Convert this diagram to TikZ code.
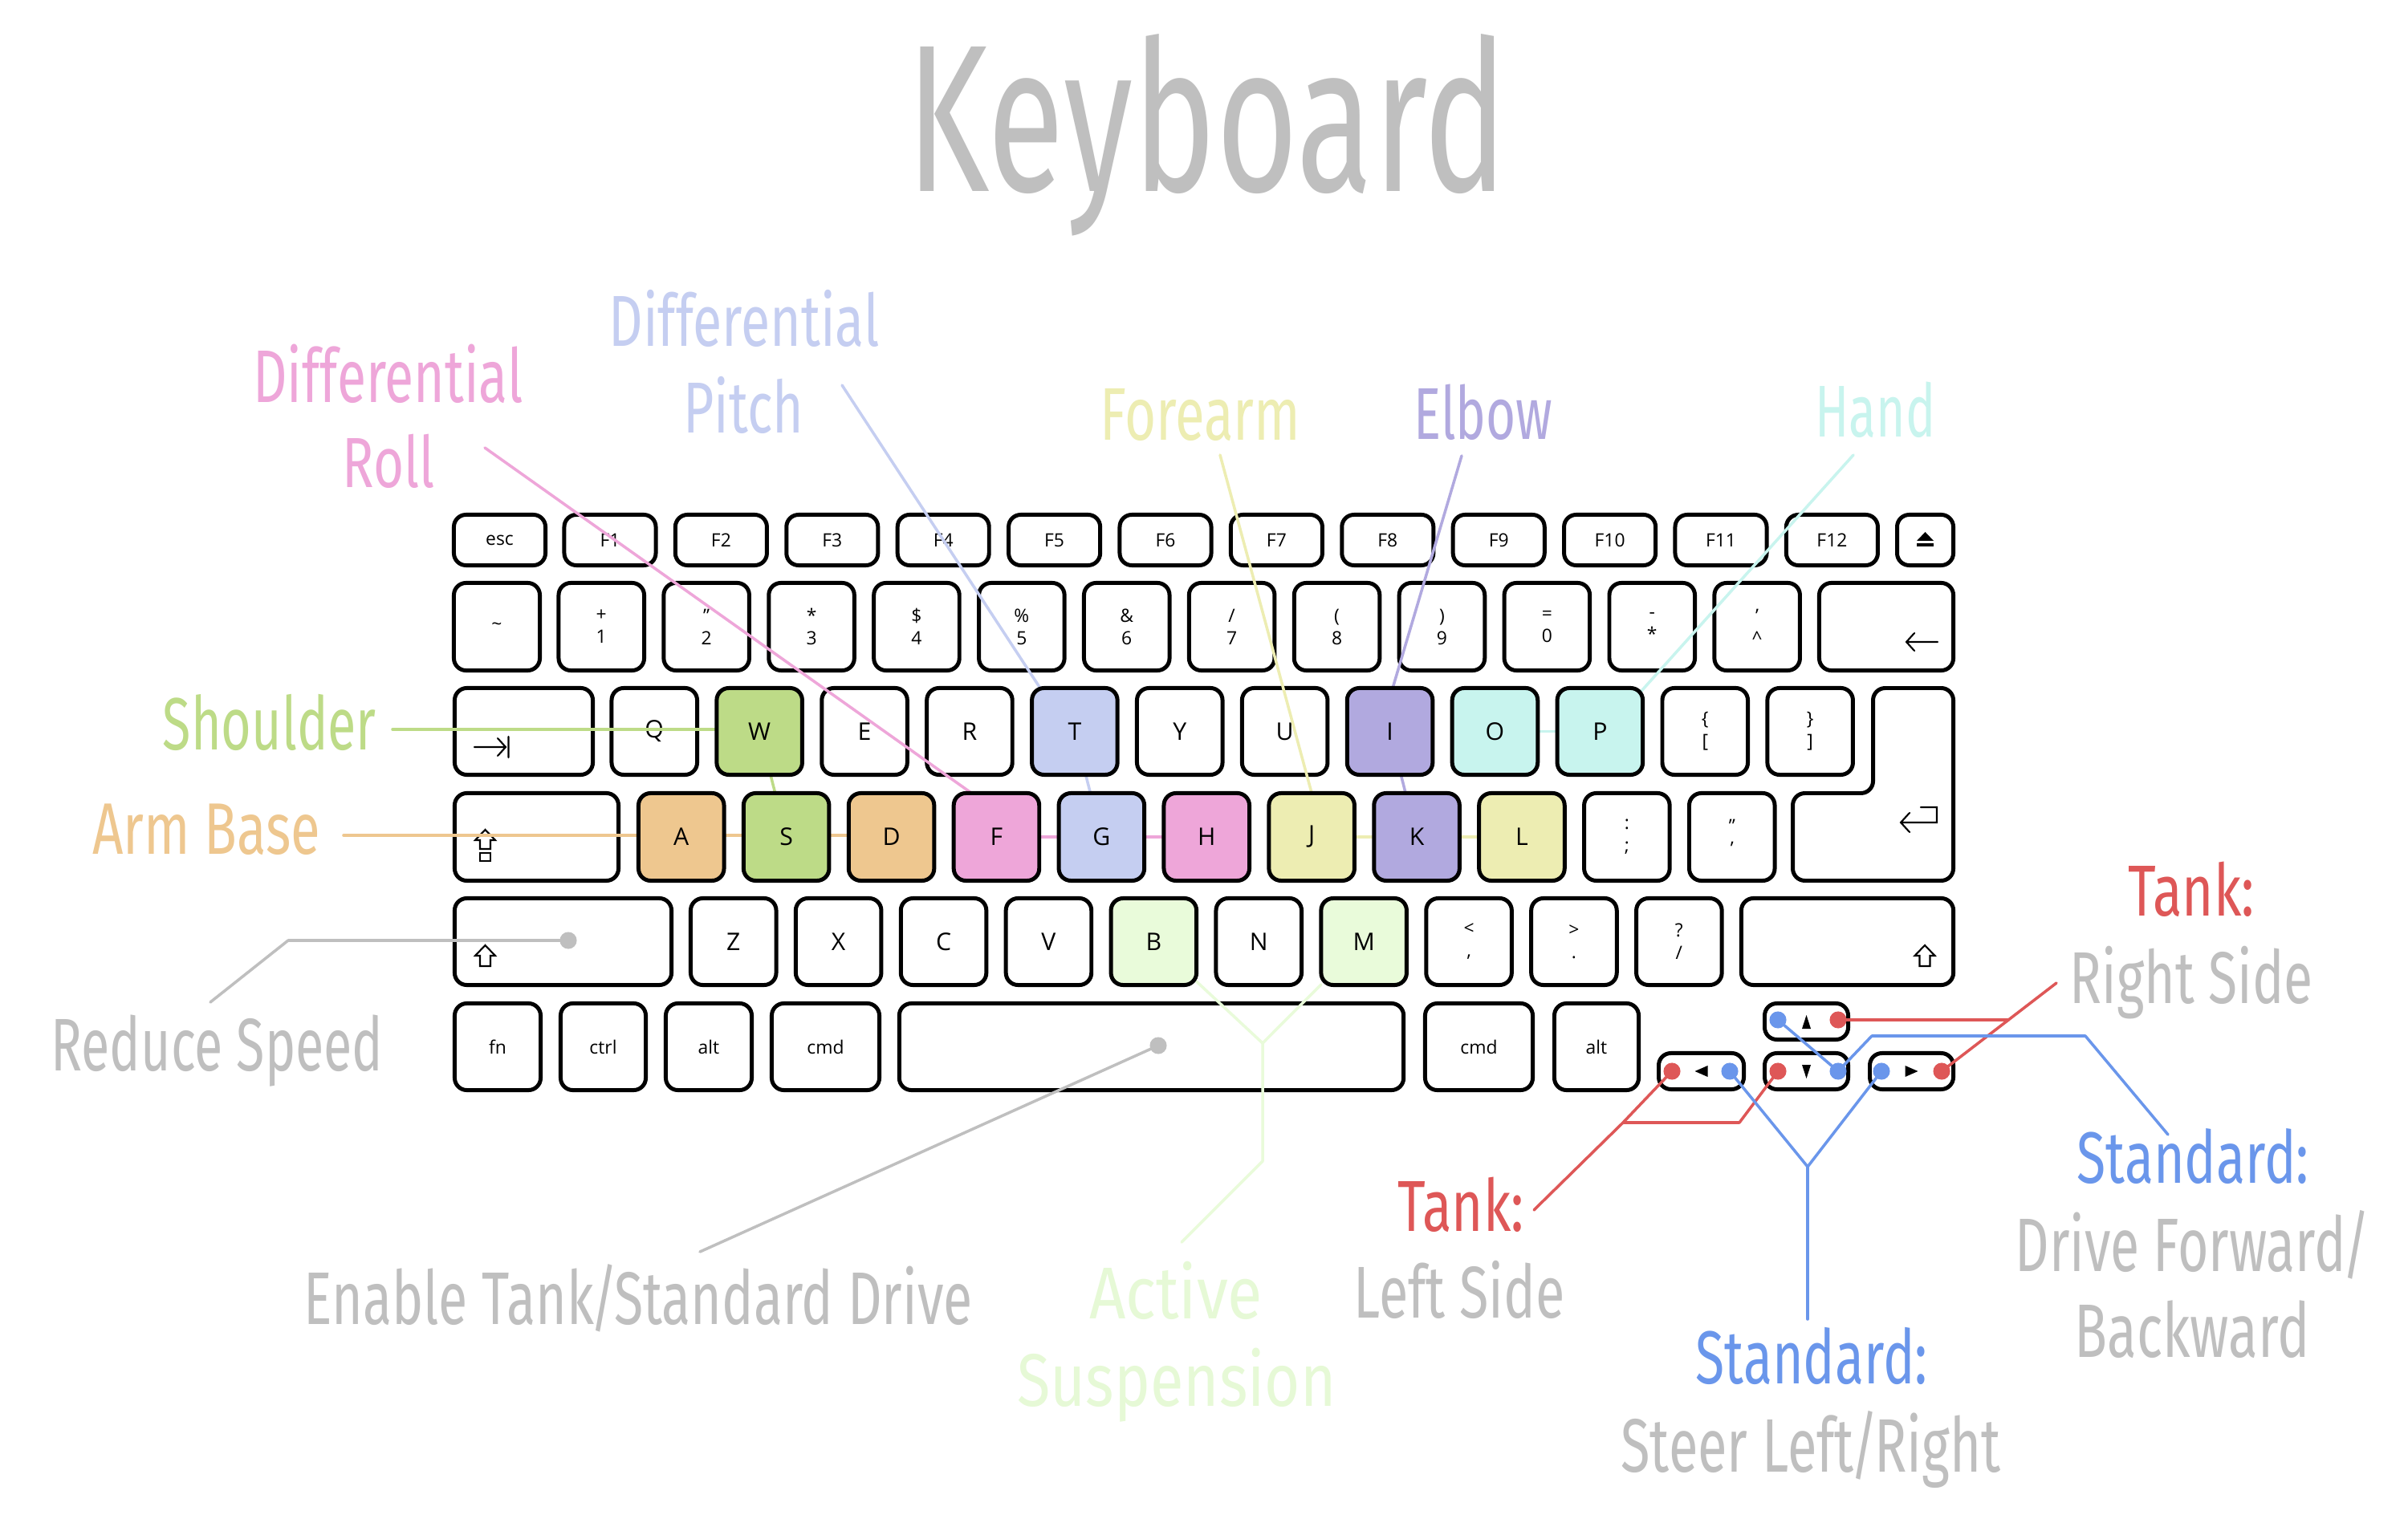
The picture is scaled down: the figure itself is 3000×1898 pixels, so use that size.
\documentclass[tikz,border=0pt]{standalone}
\usepackage{fontspec}
\usepackage{graphicx}
\usetikzlibrary{calc}
\newfontfamily\labfont{Fira Sans}
\newfontfamily\keyfont{Open Sans}
\newlength\pxu
\setlength\pxu{0.01cm}
\newcommand\lbl[3]{\resizebox{#1\pxu}{#2\pxu}{\labfont\smash{#3}\vphantom{H}}}
\newcommand\myslash{\kern-0.07em/\kern-0.07em}
\definecolor{cgray}{HTML}{BFBFBF}
\definecolor{cpink}{HTML}{EEA6D9}
\definecolor{cpitch}{HTML}{C5CEF1}
\definecolor{cfore}{HTML}{EDEDB2}
\definecolor{celbow}{HTML}{B1A9DF}
\definecolor{chand}{HTML}{C8F4EE}
\definecolor{cshoulder}{HTML}{BDDB87}
\definecolor{carm}{HTML}{EEC78F}
\definecolor{csusp}{HTML}{E9FBDA}
\definecolor{csusptxt}{HTML}{E6F9D6}
\definecolor{cred}{HTML}{DE5757}
\definecolor{cblue}{HTML}{6A96EB}
\pgfdeclarelayer{wk}
\pgfdeclarelayer{ln}
\pgfsetlayers{wk,ln,main}
\newcommand\K[7][]{\node[key,#1,minimum width={(#5-5)*0.284528pt},minimum height={(#6-5)*0.284528pt}] (#2) at ({#3+#5/2},{#4+#6/2}) {#7};}
\newcommand\RA[3][]{\K[#1]{k#2}{759.5+#3*130.9}{855}{111.5}{113}{#2}}
\newcommand\RB[3][]{\K[#1]{k#2}{793+#3*130.9}{986}{111.5}{114}{#2}}
\newcommand\RC[3][]{\K[#1]{k#2}{858+#3*130.9}{1117}{111.5}{113}{#2}}
\newcommand\RN[3]{\K[sk]{k#1}{693.5+#2*130.9}{724}{111.5}{114}{#3}}
\begin{document}
\begin{tikzpicture}[x=0.01cm,y=-0.01cm,
  key/.style={draw=black,line width=1.42pt,rounded corners=4.3pt,fill=white,inner sep=0pt,outer sep=0pt,align=center,text=black,font=\keyfont\fontsize{8.6}{10}\selectfont},
  sk/.style={font=\keyfont\fontsize{6.5}{7.97}\selectfont},
  lab/.style={inner sep=0pt,outer sep=0pt,anchor=base},
  conn/.style={line width=1pt,line cap=round,line join=round},
  dot/.style={circle,inner sep=0pt,minimum size=6pt,draw=none},
  icon/.style={line width=0.6pt,line cap=round,line join=miter,draw=black}]
\begin{pgfonlayer}{wk}
\fill[white] (0,0) rectangle (3000,1898);
\useasboundingbox (0,0) rectangle (3000,1898);
% row 0
\K[sk]{kesc}{563}{639}{119}{68}{esc}
\foreach \i in {1,...,12}{\K[sk]{kF\i}{700.5+(\i-1)*138.4}{639}{119}{68}{F\i}}
\K{kej}{2361}{639}{75}{68}{}
\fill ($(kej)+(-10.5,1)$) -- ($(kej)+(10.5,1)$) -- ($(kej)+(0,-10)$) -- cycle;
\fill ($(kej)+(-10.5,4)$) rectangle ($(kej)+(10.5,8)$);
% row 1
\K[sk]{ktil}{563}{724}{112}{114}{\textasciitilde}
\RN{1}{0}{+\\1}
\RN{2}{1}{”\\2}
\RN{3}{2}{*\\3}
\RN{4}{3}{\$\\4}
\RN{5}{4}{\%\\5}
\RN{6}{5}{\&\\6}
\RN{7}{6}{/\\7}
\RN{8}{7}{(\\8}
\RN{9}{8}{)\\9}
\RN{0}{9}{=\\0}
\RN{minus}{10}{-\\{*}}
\RN{caret}{11}{’\\\textasciicircum}
\K{kbsp}{2264}{724}{172}{114}{}
\draw[icon] (2414,800) -- (2375,800) (2385,789) -- (2375,800) -- (2385,811);
% row 2
\K{ktab}{564}{855}{177}{113}{}
\draw[icon] (591,931) -- (630,931) (620,920) -- (630,931) -- (620,942) (633.5,918) -- (633.5,944);
\RA{Q}{0} \RA{E}{2} \RA{R}{3} \RA{Y}{5} \RA{U}{6}
\K[sk]{klbr}{759.5+10*130.9}{855}{111.5}{113}{\{\\{[}}
\K[sk]{krbr}{759.5+11*130.9}{855}{111.5}{113}{\}\\{]}}
\draw[line width=1.42pt,rounded corners=4.3pt,fill=white] (2333.5,857.5) -- (2433.5,857.5) -- (2433.5,1097.5) -- (2233.5,1097.5) -- (2233.5,988.5) -- (2333.5,988.5) -- cycle;
\draw[icon] (2393,1006) -- (2413,1006) -- (2413,1025) -- (2368,1025) (2379,1013) -- (2368,1025) -- (2379,1037);
% row 3
\K{kcaps}{564}{986}{209}{114}{}
\draw[icon] (604.5,1034) -- (617,1047) -- (611,1047) -- (611,1058) -- (598,1058) -- (598,1047) -- (592,1047) -- cycle;
\draw[icon] (598,1063) rectangle (611,1073);
\K[sk]{ksemi}{793+9*130.9}{986}{111.5}{114}{:\\;}
\K[sk]{kquote}{793+10*130.9}{986}{111.5}{114}{”\\’}
% row 4
\K{klsh}{564}{1117}{275}{113}{}
\draw[icon] (604.5,1178) -- (617,1191) -- (611,1191) -- (611,1204) -- (598,1204) -- (598,1191) -- (592,1191) -- cycle;
\RC{Z}{0} \RC{X}{1} \RC{C}{2} \RC{V}{3} \RC{N}{5}
\K[sk]{kcomma}{858+7*130.9}{1117}{111.5}{113}{<\\,}
\K[sk]{kperiod}{858+8*130.9}{1117}{111.5}{113}{>\\.}
\K[sk]{kslash}{858+9*130.9}{1117}{111.5}{113}{?\\/}
\K{krsh}{2167}{1117}{269}{113}{}
\draw[icon] (2398,1178) -- (2410.5,1191) -- (2404.5,1191) -- (2404.5,1204) -- (2391.5,1204) -- (2391.5,1191) -- (2385.5,1191) -- cycle;
% row 5
\K[sk]{kfn}{564}{1248}{112}{113}{fn}
\K[sk]{kctrl}{696}{1248}{111}{113}{ctrl}
\K[sk]{klalt}{827}{1248}{112}{113}{alt}
\K[sk]{klcmd}{959}{1248}{139}{113}{cmd}
\K{kspace}{1118}{1248}{633}{113}{}
\K[sk]{krcmd}{1773}{1248}{139}{113}{cmd}
\K[sk]{kralt}{1934}{1248}{110}{113}{alt}
\K{kup}{2196}{1248}{109}{50}{}
\K{kleft}{2064}{1310}{111}{50}{}
\K{kdown}{2196}{1310}{109}{50}{}
\K{kright}{2327}{1310}{109}{50}{}
\fill ($(kup)+(-5.5,9)$) -- ($(kup)+(5.5,9)$) -- ($(kup)+(0,-8)$) -- cycle;
\fill ($(kleft)+(-8,0)$) -- ($(kleft)+(8,-7)$) -- ($(kleft)+(8,7)$) -- cycle;
\fill ($(kdown)+(-5.5,-8)$) -- ($(kdown)+(5.5,-8)$) -- ($(kdown)+(0,9)$) -- cycle;
\fill ($(kright)+(8,0)$) -- ($(kright)+(-8,-7)$) -- ($(kright)+(-8,7)$) -- cycle;
\end{pgfonlayer}
% coloured keys
\RA[fill=cshoulder]{W}{1} \RA[fill=cpitch]{T}{4} \RA[fill=celbow]{I}{7} \RA[fill=chand]{O}{8} \RA[fill=chand]{P}{9}
\RB[fill=carm]{A}{0} \RB[fill=cshoulder]{S}{1} \RB[fill=carm]{D}{2} \RB[fill=cpink]{F}{3} \RB[fill=cpitch]{G}{4}
\RB[fill=cpink]{H}{5} \RB[fill=cfore]{J}{6} \RB[fill=celbow]{K}{7} \RB[fill=cfore]{L}{8}
\RC[fill=csusp]{B}{4} \RC[fill=csusp]{M}{6}
% labels
\node[lab,text=cgray] (title) at (1504,238.5) {\lbl{748}{180}{Keyboard}};
\node[lab,text=cpink] (rollA) at (483.3,502) {\lbl{336}{64}{Differential}};
\node[lab,text=cpink] (rollB) at (484,608) {\lbl{115}{61}{Roll}};
\node[lab,text=cpitch] (pitA) at (927,432) {\lbl{337}{62}{Differential}};
\node[lab,text=cpitch] (pitB) at (926.5,540) {\lbl{150}{62}{Pitch}};
\node[lab,text=cfore] (fore) at (1495.3,549) {\lbl{250}{64}{Forearm}};
\node[lab,text=celbow] (elb) at (1848,548) {\lbl{173}{63}{Elbow}};
\node[lab,text=chand] (hand) at (2336.5,545) {\lbl{150}{63}{Hand}};
\node[lab,text=cshoulder] (shou) at (335.8,934.6) {\lbl{266}{63.6}{Shoulder}};
\node[lab,text=carm] (armb) at (257.4,1064) {\lbl{284}{62.6}{Arm Base}};
\node[lab,text=cgray] (reds) at (270.5,1334) {\lbl{414}{64}{Reduce Speed}};
\node[lab,text=cgray] (enab) at (795,1650) {\lbl{833}{64}{Enable Tank\myslash Standard Drive}};
\node[lab,text=csusptxt] (suspA) at (1465,1643) {\lbl{216}{63}{Active}};
\node[lab,text=csusptxt] (suspB) at (1466,1752) {\lbl{397}{64}{Suspension}};
\node[lab,text=cred] (tankL) at (1820,1534) {\lbl{158}{62}{Tank:}};
\node[lab,text=cgray] (leftS) at (1818,1642) {\lbl{263}{63}{Left Side}};
\node[lab,text=cred] (tankR) at (2730,1141) {\lbl{158}{62}{Tank:}};
\node[lab,text=cgray] (rightS) at (2730,1250) {\lbl{303}{63}{Right Side}};
\node[lab,text=cblue] (stdA) at (2732,1474.5) {\lbl{289}{62.5}{Standard:}};
\node[lab,text=cgray] (stdB) at (2731.5,1584) {\lbl{442}{65}{Drive Forward\kern-0.07em/}};
\node[lab,text=cgray] (stdC) at (2731,1691) {\lbl{293}{65}{Backward}};
\node[lab,text=cblue] (strA) at (2257,1724.5) {\lbl{289}{64.5}{Standard:}};
\node[lab,text=cgray] (strB) at (2256,1834) {\lbl{473}{65}{Steer Left\myslash Right}};
% connector coordinates
\coordinate (rollE) at (604,558);
\coordinate (pitchE) at (1049,480);
\coordinate (foreE) at (1520,567);
\coordinate (elbE) at (1821,568);
\coordinate (handE) at (2309,567);
\coordinate (shE) at (489,909);
\coordinate (armE) at (428,1041);
\coordinate (redE) at (262,1249);
\coordinate (redM) at (359,1172);
\coordinate (cRS) at (708,1172);
\coordinate (enE) at (872,1560);
\coordinate (cEN) at (1443,1303);
\coordinate (suJ) at (1573,1300);
\coordinate (suK) at (1573,1447);
\coordinate (suE) at (1472,1548);
\coordinate (pUb) at (2215,1271);
\coordinate (pUr) at (2290,1271);
\coordinate (pLr) at (2083,1335);
\coordinate (pLb) at (2155,1335);
\coordinate (pDr) at (2215,1335);
\coordinate (pDb) at (2290,1335);
\coordinate (pRb) at (2344,1335);
\coordinate (pRr) at (2419,1335);
\coordinate (tlE) at (1911,1508);
\coordinate (tlK) at (2022,1399);
\coordinate (tlM) at (2167,1399);
\coordinate (trE) at (2562,1225);
\coordinate (trM) at (2502,1271);
\coordinate (sdA) at (2332,1291);
\coordinate (sdB) at (2598,1291);
\coordinate (sdE) at (2701,1414);
\coordinate (stJ) at (2252,1454);
\coordinate (stE) at (2252,1644);
\begin{pgfonlayer}{ln}
\draw[conn,draw=cpink] (rollE) -- ($(kF.north)+(-31,0)$);
\draw[conn,draw=cpink] (kF) -- (kH);
\draw[conn,draw=cpitch] (pitchE) -- ($(kT.north)+(-43,0)$);
\draw[conn,draw=cpitch] (kT) -- (kG);
\draw[conn,draw=cfore] (foreE) -- (kJ.north);
\draw[conn,draw=cfore] (kJ) -- (kL);
\draw[conn,draw=celbow] (elbE) -- ($(kI.north)+(3.5,0)$);
\draw[conn,draw=celbow] (kI) -- (kK);
\draw[conn,draw=chand] (handE) -- ($(kP.north east)+(-2,4)$);
\draw[conn,draw=chand] (kO) -- (kP);
\draw[conn,draw=cshoulder] (shE) -- (shE -| kW);
\draw[conn,draw=cshoulder] (kW) -- (kS);
\draw[conn,draw=carm] (armE) -- (armE -| kD);
\draw[conn,draw=cgray] (redE) -- (redM) -- (cRS);
\draw[conn,draw=cgray] (enE) -- (cEN);
\draw[conn,draw=csusp] (kB) -- (suJ) -- (kM);
\draw[conn,draw=csusp] (suJ) -- (suK) -- (suE);
\draw[conn,draw=cred] (tlE) -- (tlK) -- (pLr);
\draw[conn,draw=cred] (tlK) -- (tlM) -- (pDr);
\draw[conn,draw=cred] (trE) -- (pRr);
\draw[conn,draw=cred] (pUr) -- (trM);
\draw[conn,draw=cblue] (pUb) -- (pDb) -- (sdA) -- (sdB) -- (sdE);
\draw[conn,draw=cblue] (pLb) -- (stJ) -- (pRb);
\draw[conn,draw=cblue] (stJ) -- (stE);
\end{pgfonlayer}
% dots
\node[dot,fill=cgray] (dRS) at (cRS) {};
\node[dot,fill=cgray] (dEN) at (cEN) {};
\node[dot,fill=cblue] (dUb) at (pUb) {};
\node[dot,fill=cred] (dUr) at (pUr) {};
\node[dot,fill=cred] (dLr) at (pLr) {};
\node[dot,fill=cblue] (dLb) at (pLb) {};
\node[dot,fill=cred] (dDr) at (pDr) {};
\node[dot,fill=cblue] (dDb) at (pDb) {};
\node[dot,fill=cblue] (dRb) at (pRb) {};
\node[dot,fill=cred] (dRr) at (pRr) {};
\end{tikzpicture}
\end{document}
